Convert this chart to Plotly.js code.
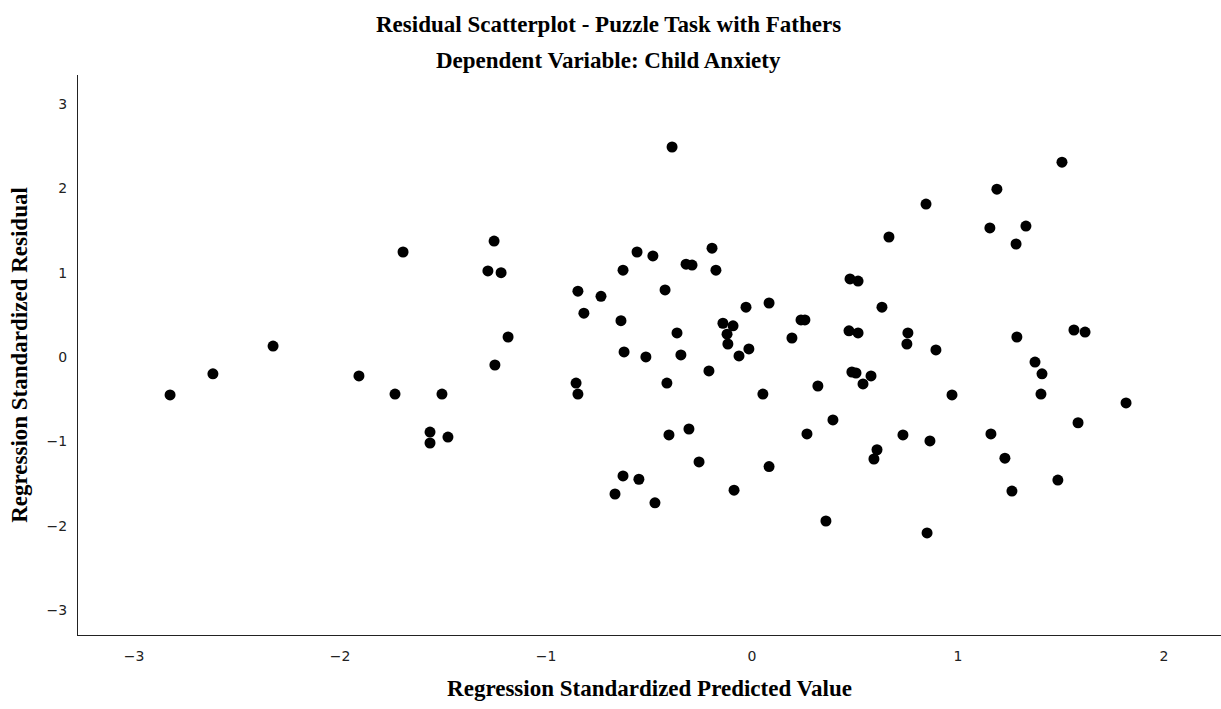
<!DOCTYPE html>
<html>
<head>
<meta charset="utf-8">
<script src="https://cdn.plot.ly/plotly-3.0.1.min.js"></script>
<style>html,body{margin:0;padding:0;background:#fff;}#chart{width:1221px;height:709px;}</style>
</head>
<body>
<div id="chart"></div>
<script>
// Regression Standardized Predicted Value
const predicted = [
  -2.825, -2.617, -2.325, -1.694, -1.908, -1.733, -1.505, -1.563, -1.563, -1.476,
  -1.252, -1.282, -1.218, -1.184, -1.248,
  -0.388, -0.558, -0.481, -0.626, -0.320, -0.291, -0.194, -0.175, -0.845, -0.733,
  -0.422, -0.816, -0.636, -0.029, 0.083, -0.141, -0.092, -0.121, -0.117, -0.015,
  -0.063, -0.364, -0.621, -0.515, -0.345, -0.209, -0.854, -0.845, -0.413, 0.053,
  -0.403, -0.306, -0.257, 0.083, -0.626, -0.549, -0.665, -0.471, -0.087, 0.194,
  1.505, 1.189, 0.845, 0.665, 1.155, 1.330, 1.282, 0.476, 0.515, 0.631,
  0.238, 0.257, 0.471, 0.515, 0.757, 0.752, 0.893, 1.286, 1.563, 1.617,
  0.485, 0.505, 0.578, 0.539, 0.320, 0.971, 1.374, 1.408, 1.403, 1.816,
  0.393, 0.267, 0.733, 0.864, 0.607, 0.592, 1.160, 1.228, 1.583, 1.485,
  1.262, 0.359, 0.850
];
// Regression Standardized Residual
const residual = [
  -0.45, -0.20, 0.13, 1.245, -0.225, -0.44, -0.44, -0.89, -1.02, -0.95,
  1.375, 1.02, 1.00, 0.237, -0.095,
  2.49, 1.245, 1.198, 1.03, 1.10, 1.09, 1.29, 1.03, 0.78, 0.72,
  0.795, 0.52, 0.43, 0.59, 0.64, 0.40, 0.37, 0.27, 0.154, 0.095,
  0.012, 0.285, 0.06, 0.00, 0.024, -0.166, -0.31, -0.44, -0.31, -0.44,
  -0.925, -0.854, -1.245, -1.30, -1.41, -1.45, -1.625, -1.73, -1.58, 0.225,
  2.31, 1.99, 1.814, 1.423, 1.53, 1.553, 1.34, 0.925, 0.90, 0.59,
  0.44, 0.44, 0.31, 0.285, 0.285, 0.154, 0.083, 0.237, 0.32, 0.296,
  -0.178, -0.19, -0.225, -0.32, -0.344, -0.45, -0.06, -0.20, -0.44, -0.545,
  -0.747, -0.913, -0.925, -0.996, -1.10, -1.21, -0.913, -1.20, -0.78, -1.46,
  -1.59, -1.945, -2.087
];
const xTicks = [-3, -2, -1, 0, 1, 2];
const yTicks = [-3, -2, -1, 0, 1, 2, 3];
const titleLine1 = "Residual Scatterplot - Puzzle Task with Fathers";
const titleLine2 = "Dependent Variable: Child Anxiety";
const xTitle = "Regression Standardized Predicted Value";
const yTitle = "Regression Standardized Residual";

const serif = "Liberation Serif, Times New Roman, serif";
const tickFont = {family: "DejaVu Sans, sans-serif", size: 14, color: "#222"};

const trace = {
  x: predicted, y: residual, type: "scatter", mode: "markers",
  marker: {color: "#000", size: 11, line: {width: 0}},
  hoverinfo: "x+y"
};

const layout = {
  width: 1221, height: 709,
  margin: {l: 78, r: 0, t: 75, b: 74},
  paper_bgcolor: "#fff", plot_bgcolor: "#fff",
  showlegend: false,
  xaxis: {
    range: [-3.272, 2.277], tickvals: xTicks, ticks: "", showgrid: false, zeroline: false,
    showline: true, linecolor: "#222", linewidth: 1, tickfont: tickFont,
    ticklabelstandoff: 8,
    title: {text: xTitle, font: {family: serif, size: 23, color: "#000", weight: "bold"}, standoff: 17}
  },
  yaxis: {
    range: [-3.297, 3.344], tickvals: yTicks, ticks: "", showgrid: false, zeroline: false,
    showline: true, linecolor: "#222", linewidth: 1, tickfont: tickFont,
    ticklabelstandoff: 7,
    title: {text: yTitle, font: {family: serif, size: 23, color: "#000", weight: "bold"}, standoff: 12}
  },
  annotations: [
    {text: titleLine1, xref: "paper", yref: "paper", x: 0.464, y: 1, yshift: 51, xanchor: "center", yanchor: "middle",
     showarrow: false, font: {family: serif, size: 23, color: "#000", weight: "bold"}},
    {text: titleLine2, xref: "paper", yref: "paper", x: 0.464, y: 1, yshift: 15, xanchor: "center", yanchor: "middle",
     showarrow: false, font: {family: serif, size: 23, color: "#000", weight: "bold"}}
  ]
};

Plotly.newPlot("chart", [trace], layout, {displayModeBar: false, staticPlot: true});
</script>
</body>
</html>
